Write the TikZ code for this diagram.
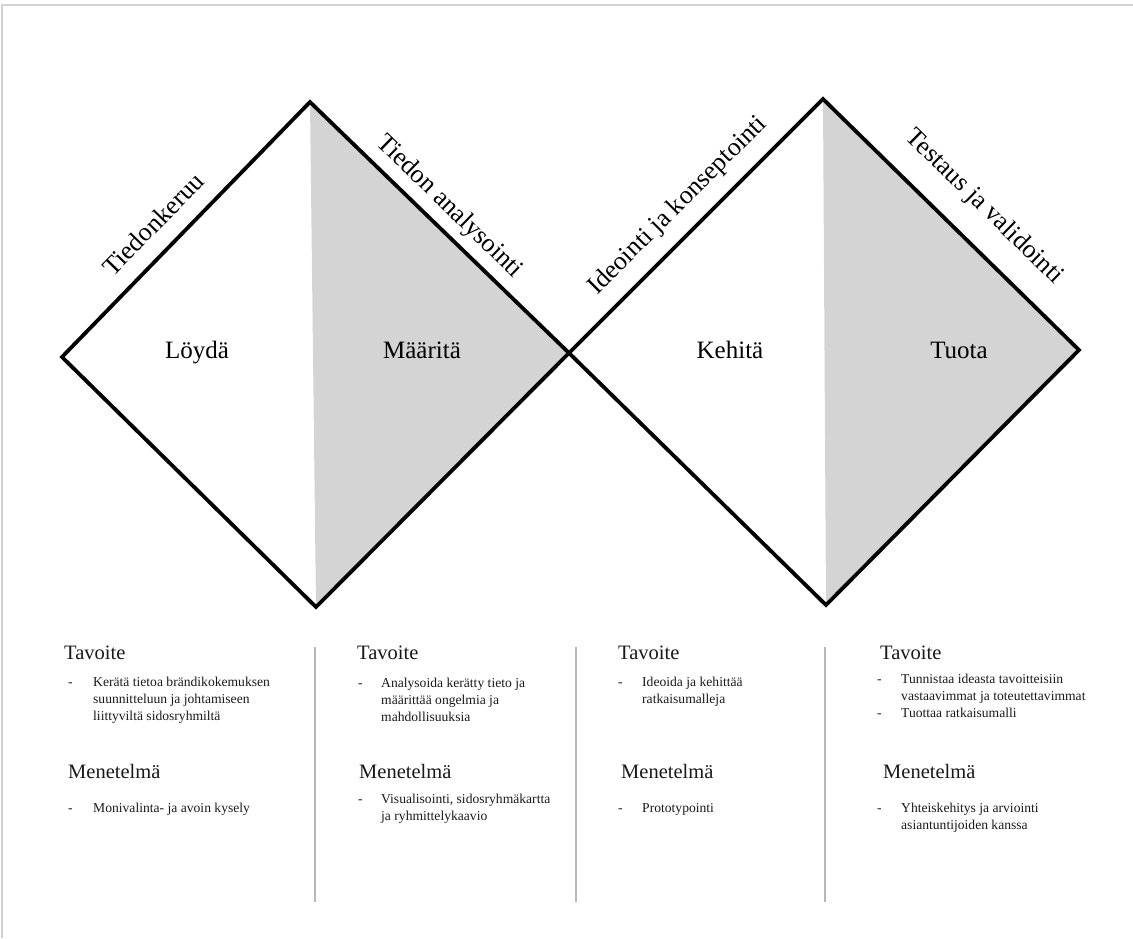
\documentclass[tikz,border=0pt]{standalone}
\usepackage{fontspec}
\setmainfont{Liberation Serif}
% stacked lines whose baseline is the baseline of the first line
\newcommand{\toplines}[1]{\begin{tabular}[t]{@{}l@{}}#1\end{tabular}}
\begin{document}
\begin{tikzpicture}[x=1pt,y=-1pt,
  frameline/.style={draw=black!18,line width=1.2pt},
  diamondline/.style={draw=black,line width=3.8pt,line join=miter},
  halfshade/.style={fill=black!17},
  divider/.style={draw=black!28,line width=1.8pt},
  phase/.style={font=\fontsize{25}{30}\selectfont,anchor=base},
  edgetext/.style={font=\fontsize{26}{30}\selectfont,anchor=center,inner sep=0pt},
  heading/.style={font=\fontsize{20.5}{24}\selectfont,anchor=base west,inner sep=0pt,text=black!90},
  bodytext/.style={font=\fontsize{13.6}{17}\selectfont,anchor=base west,inner sep=0pt,text=black!90},
  dashmark/.style={font=\fontsize{13.6}{17}\selectfont,anchor=base west,inner sep=0pt,text=black!90}
]
\useasboundingbox (0,0) rectangle (1133,938);

% page frame (top and left edges only)
\coordinate (fa) at (2,938);
\coordinate (fb) at (2,5);
\coordinate (fc) at (1133,5);
\draw[frameline] (fa) -- (fb) -- (fc);

% corner points of the two diamonds
\coordinate (L1) at (62,357);
\coordinate (T1) at (310,102);
\coordinate (M)  at (569,353);
\coordinate (B1) at (316,607);
\coordinate (T2) at (823,99);
\coordinate (R2) at (1079,350);
\coordinate (B2) at (826,605);

% shaded right halves
\fill[halfshade] (T1) -- (M) -- (B1) -- cycle;
\fill[halfshade] (T2) -- (R2) -- (B2) -- cycle;

% diamond outlines
\draw[diamondline] (L1) -- (T1) -- (M) -- (B1) -- cycle;
\draw[diamondline] (M) -- (T2) -- (R2) -- (B2) -- cycle;

% phase names
\node[phase] (loyda)   at (197,358) {Löydä};
\node[phase] (maarita) at (422,358) {Määritä};
\node[phase] (kehita)  at (730,358) {Kehitä};
\node[phase] (tuota)   at (959,358) {Tuota};

% labels along the upper edges
\node[edgetext,rotate=45.8]  (e1) at (153,224) {Tiedonkeruu};
\node[edgetext,rotate=-44.1] (e2) at (449,207) {Tiedon analysointi};
\node[edgetext,rotate=45]    (e3) at (678,206) {Ideointi ja konseptointi};
\node[edgetext,rotate=-44.3] (e4) at (984,207) {Testaus ja validointi};

% column dividers
\coordinate (d1a) at (315,647); \coordinate (d1b) at (315,902);
\coordinate (d2a) at (576,647); \coordinate (d2b) at (576,902);
\coordinate (d3a) at (825,647); \coordinate (d3b) at (825,902);
\draw[divider] (d1a) -- (d1b);
\draw[divider] (d2a) -- (d2b);
\draw[divider] (d3a) -- (d3b);

% column 1
\node[heading] (h1a) at (64,659) {Tavoite};
\node[dashmark] (m1a) at (68,686) {-};
\node[bodytext] (t1a) at (93,686) {\toplines{Kerätä tietoa brändikokemuksen\\suunnitteluun ja johtamiseen\\liittyviltä sidosryhmiltä}};
\node[heading] (h1b) at (68,778) {Menetelmä};
\node[dashmark] (m1b) at (68,812) {-};
\node[bodytext] (t1b) at (93,812) {Monivalinta- ja avoin kysely};

% column 2
\node[heading] (h2a) at (357,659) {Tavoite};
\node[dashmark] (m2a) at (358,687) {-};
\node[bodytext] (t2a) at (381,687) {\toplines{Analysoida kerätty tieto ja\\määrittää ongelmia ja\\mahdollisuuksia}};
\node[heading] (h2b) at (359,778) {Menetelmä};
\node[dashmark] (m2b) at (358,803) {-};
\node[bodytext] (t2b) at (381,803) {\toplines{Visualisointi, sidosryhmäkartta\\ja ryhmittelykaavio}};

% column 3
\node[heading] (h3a) at (618,659) {Tavoite};
\node[dashmark] (m3a) at (618,686) {-};
\node[bodytext] (t3a) at (642,686) {\toplines{Ideoida ja kehittää\\ratkaisumalleja}};
\node[heading] (h3b) at (621,778) {Menetelmä};
\node[dashmark] (m3b) at (618,812) {-};
\node[bodytext] (t3b) at (642,812) {Prototypointi};

% column 4
\node[heading] (h4a) at (880,659) {Tavoite};
\node[dashmark] (m4a) at (877,683) {-};
\node[bodytext] (t4a) at (901,683) {\toplines{Tunnistaa ideasta tavoitteisiin\\vastaavimmat ja toteutettavimmat}};
\node[dashmark] (m4b) at (877,717) {-};
\node[bodytext] (t4b) at (901,717) {Tuottaa ratkaisumalli};
\node[heading] (h4b) at (883,778) {Menetelmä};
\node[dashmark] (m4c) at (877,812) {-};
\node[bodytext] (t4c) at (901,812) {\toplines{Yhteiskehitys ja arviointi\\asiantuntijoiden kanssa}};
\end{tikzpicture}
\end{document}
